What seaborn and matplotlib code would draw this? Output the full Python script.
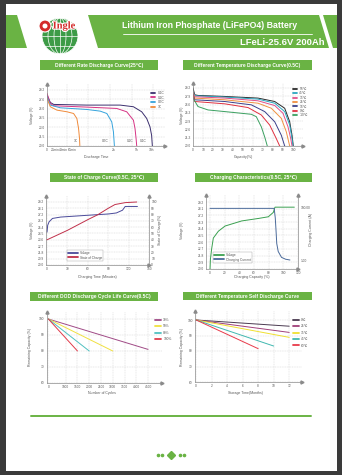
import numpy as np
import pandas as pd
import matplotlib
matplotlib.use("Agg")
import matplotlib.pyplot as plt
from matplotlib.patches import Rectangle, Polygon, Circle, Ellipse
import matplotlib.patheffects as pe
import seaborn as sns

W, H = 342, 475
GREEN = "#6ab344"
AXC = "#8a8a8a"
GRIDC = "#cfcfcf"
TXT = "#555555"

# ---------------- data ----------------
# Different rate discharge (x: position on the discharge-time axis, 0..100)
rate_labels = ["0.1C", "0.2C", "0.5C", "1C"]
rate_colors = ["#3b2f6e", "#d63384", "#34a3dc", "#f08a3a"]
rate_t_01 = [0, 3.1, 6.3, 37.5, 68.8, 81.3, 89.1, 93.8, 96.9, 98.4, 99.1]
rate_v_01 = [28.37, 27.16, 26.83, 26.72, 26.72, 26.45, 25.62, 24.52, 23.14, 21.76, 20.0]
rate_t_02 = [0, 3.1, 6.3, 37.5, 65.6, 75.0, 81.3, 82.8, 83.8, 84.4]
rate_v_02 = [28.65, 27.0, 26.61, 26.39, 26.17, 25.62, 24.24, 22.86, 21.21, 20.0]
rate_t_05 = [0, 3.1, 12.5, 37.5, 50.0, 56.3, 60.9, 62.5, 63.4]
rate_v_05 = [28.1, 26.72, 26.28, 26.0, 25.73, 25.34, 23.97, 22.31, 20.0]
rate_t_1 = [0, 3.1, 9.4, 18.8, 25.0, 28.1, 29.7, 30.6, 30.9]
rate_v_1 = [27.82, 26.45, 25.89, 25.62, 25.34, 24.52, 22.86, 21.21, 20.0]
rate_tick_pos = [0, 7.8, 15.6, 24.1, 62.5, 84.4, 98.4]
rate_tick_lab = ["0", "20min", "40min", "60min", "2h", "5h", "10h"]
rate_end_lab_x = [90.6, 78.0, 54.7, 26.6]
volt_ticks_a = ["20.0", "21.5", "23.0", "24.5", "26.0", "27.6", "29.2"]

# Different temperature discharge (capacity %, voltage)
temp_labels = ["55℃", "45℃", "35℃", "25℃", "15℃", "0℃", "-10℃"]
temp_colors = ["#2b2b2b", "#2aa6c0", "#e0508a", "#f09040", "#3a3f8a", "#e03040", "#3aa060"]
temp_c = [
    [0, 1.7, 5, 31.7, 65, 81.7, 91.7, 96.7, 99, 100.3],
    [0, 1.7, 31.7, 65, 81.7, 91.7, 96.7, 99, 100],
    [0, 1.7, 31.7, 65, 81.7, 90, 95, 97.7, 99],
    [0, 1.7, 31.7, 65, 78.3, 88.3, 93.3, 96.7],
    [0, 1.7, 31.7, 58.3, 71.7, 81.7, 88.3, 91.7],
    [0, 1.7, 31.7, 55, 68.3, 76.7, 83.3, 86.7],
    [0, 5, 15, 31.7, 58.3, 63.3, 68.3, 71.7, 74.3],
]
temp_v = [
    [29.2, 28.13, 28.02, 27.86, 27.6, 27.06, 25.99, 23.85, 21.71, 20.0],
    [28.67, 27.97, 27.76, 27.44, 26.79, 25.46, 23.32, 21.18, 20.0],
    [28.56, 27.81, 27.6, 27.17, 26.42, 25.19, 23.05, 21.18, 20.0],
    [28.4, 27.6, 27.33, 26.79, 25.99, 24.39, 22.25, 20.0],
    [28.24, 27.33, 27.06, 26.53, 25.46, 23.85, 21.71, 20.0],
    [28.13, 27.06, 26.69, 26.1, 24.92, 23.32, 21.18, 20.0],
    [27.6, 26.26, 25.72, 25.46, 25.03, 24.65, 23.05, 21.44, 20.0],
]

# State of charge (minutes)
soc_vt = [0, 1, 3, 8, 20, 58, 90, 102, 111, 115, 133]
soc_volt = [24.8, 25.8, 26.3, 26.8, 27.0, 27.25, 27.45, 27.6, 28.0, 28.55, 28.55]
soc_t = [0, 30, 60, 75, 90, 100, 115, 132]
soc_pct = [40, 55, 72, 80, 90, 96, 99, 100]
volt_ticks_b = ["20.0", "20.9", "21.8", "22.7", "23.6", "24.5", "25.4", "26.3", "27.2", "28.1", "29.2"]

# Charging characteristics (capacity %)
chg_c = [0, 0.5, 2.3, 4.5, 11.4, 20.5, 43.2, 65.9, 79.5, 86.4, 88.6, 115]
chg_v = [20.0, 21.3, 22.83, 24.25, 25.19, 25.9, 26.6, 26.94, 27.17, 27.78, 28.49, 28.49]
cur_c = [0, 87.5, 89, 90, 91, 93, 97.5, 103, 109]
cur_a = [98, 98, 80, 57, 32, 17, 6, 2.5, 1]

# DOD cycle life
dod_labels = ["30%", "50%", "80%", "100%"]
dod_colors = ["#a04a86", "#f0e040", "#50c0c0", "#e03a4a"]
dod_end_cycles = [4500, 3000, 2000, 1500]
dod_end_cap = [81, 80, 80, 80]

# Self discharge
sd_labels = ["0℃", "25℃", "35℃", "45℃", "60℃"]
sd_colors = ["#4a3a50", "#a0407a", "#f0e030", "#40b8b0", "#e83a4a"]
sd_end_month = [12, 12, 12, 10, 8]
sd_end_cap = [96, 92, 88.8, 83.2, 81.5]

# ---------------- figure ----------------
sns.set_theme(style="white")
plt.rcParams["font.family"] = ["Liberation Sans", "DejaVu Sans"]
plt.rcParams["axes.unicode_minus"] = False

fig = plt.figure(figsize=(W / 100, H / 100), dpi=100)
fig.patch.set_facecolor("#3a3a3a")


def fx(x):
    return x / W


def fy(y):
    return 1 - y / H


bg = fig.add_axes([0, 0, 1, 1], zorder=-5)
bg.set_xlim(0, W)
bg.set_ylim(H, 0)
bg.axis("off")
bg.add_patch(Rectangle((6, 4), 331, 467, fc="white", ec="none"))

# header banner
bg.add_patch(Polygon([(6, 15), (17, 15), (27, 48), (6, 48)], closed=True, fc=GREEN, ec="none"))
bg.add_patch(Polygon([(88, 15), (319, 15), (329, 48), (98, 48)], closed=True, fc=GREEN, ec="none"))
bg.add_patch(Polygon([(323, 15), (337, 15), (337, 48), (333, 48)], closed=True, fc=GREEN, ec="none"))
bg.plot([123, 312], [34, 34], color="white", lw=0.6)
bg.text(210, 25, "Lithium Iron Phosphate (LiFePO4) Battery", color="white", fontsize=6.3,
        fontweight="bold", ha="center", va="center")
bg.text(325, 42.5, "LFeLi-25.6V 200Ah", color="white", fontsize=6.8, fontweight="bold",
        ha="right", va="center")

# logo
bg.add_patch(Circle((60, 36), 18, fc="#3d9b47", ec="white", lw=0.6, zorder=2))
for w in (12, 24):
    bg.add_patch(Ellipse((60, 36), w, 36, fc="none", ec="white", lw=0.5, zorder=3))
bg.plot([60, 60], [18, 54], color="white", lw=0.5, zorder=3)
for yy in (26, 36, 46):
    half = np.sqrt(18 ** 2 - (yy - 36) ** 2)
    bg.plot([60 - half, 60 + half], [yy, yy], color="white", lw=0.5, zorder=3)
bg.add_patch(Circle((45, 26), 6, fc="#d42a2a", ec="white", lw=0.8, zorder=4))
bg.add_patch(Circle((45, 26), 2.5, fc="white", ec="none", zorder=5))
bg.text(64, 26, "Ingle", color="#d42a2a", fontsize=7.5, fontweight="bold", ha="center",
        va="center", family=["Liberation Serif", "DejaVu Serif"], zorder=6,
        path_effects=[pe.withStroke(linewidth=1.6, foreground="white")])

# footer
bg.plot([31, 311], [416, 416], color=GREEN, lw=1.4)
for xx in (158, 162, 180, 184):
    bg.plot(xx, 455, "o", ms=1.6, color=GREEN)
bg.plot(171, 455, "D", ms=4.2, color=GREEN)


def title_box(x0, y0, x1, y1, text):
    bg.add_patch(Rectangle((x0, y0), x1 - x0, y1 - y0, fc=GREEN, ec="none"))
    bg.text((x0 + x1) / 2, (y0 + y1) / 2 + 0.3, text, color="white", fontsize=3.5,
            fontweight="bold", ha="center", va="center")


title_box(40, 60, 158, 70, "Different Rate Discharge Curve(25℃)")
title_box(183, 60, 312, 70, "Different Temperature Discharge Curve(0.5C)")
title_box(50, 173, 158, 182, "State of Charge Curve(0.5C, 25℃)")
title_box(195, 173, 312, 182, "Charging Characteristics(0.5C, 25℃)")
title_box(30, 292, 158, 301, "Different DOD Discharge Cycle Life Curve(0.5C)")
title_box(183, 292, 312, 300, "Different Temperature Self Discharge Curve")


def axes_px(left, top, right, bottom):
    ax = fig.add_axes([fx(left), fy(bottom), (right - left) / W, (bottom - top) / H])
    ax.set_facecolor("none")
    return ax


def style(ax, right_spine=False):
    for s in ("top", "right"):
        ax.spines[s].set_visible(False)
    if right_spine:
        ax.spines["right"].set_visible(True)
    for s in ax.spines.values():
        s.set_color(AXC)
        s.set_linewidth(0.5)
    ax.tick_params(length=0, labelsize=2.3, colors=TXT, pad=1.6)
    ax.grid(True, color=GRIDC, lw=0.35, ls=(0, (2, 1.5)))
    ax.plot([1], [0], marker=">", ms=2.2, color=AXC, transform=ax.transAxes, clip_on=False)
    ax.plot([0], [1], marker="^", ms=2.2, color=AXC, transform=ax.transAxes, clip_on=False)
    ax.set_xlabel("")
    ax.set_ylabel("")


def label(ax, xlabel, ylabel, xl_px, yl_px, axbox):
    ax.text(xl_px[0], xl_px[1], xlabel, fontsize=2.5, color=TXT, ha="center", va="center",
            transform=bg.transData)
    ax.text(yl_px[0], yl_px[1], ylabel, fontsize=2.5, color=TXT, ha="center", va="center",
            rotation=90, transform=bg.transData)


def small_legend(ax, handles, labels, x, y, frame=False, hl=1.4, spacing=0.25):
    leg = ax.legend(handles, labels, loc="upper left", bbox_to_anchor=(fx(x), fy(y)),
                    bbox_transform=fig.transFigure, fontsize=2.3, frameon=frame,
                    handlelength=hl, handletextpad=0.6, labelspacing=spacing,
                    borderpad=0.35 if frame else 0, borderaxespad=0, fancybox=False)
    for ln in leg.get_lines():
        ln.set_linewidth(1.3)
    for t in leg.get_texts():
        t.set_color(TXT)
    if frame:
        leg.get_frame().set_edgecolor(AXC)
        leg.get_frame().set_linewidth(0.3)
    return leg


# ---- panel 1: rate discharge ----
box1 = (47, 84, 165, 146)
ax1 = axes_px(*box1)
rate_df = pd.concat([
    pd.DataFrame({"t": t, "v": v, "rate": r})
    for t, v, r in zip([rate_t_01, rate_t_02, rate_t_05, rate_t_1],
                       [rate_v_01, rate_v_02, rate_v_05, rate_v_1], rate_labels)
])
sns.lineplot(data=rate_df, x="t", y="v", hue="rate", hue_order=rate_labels,
             palette=rate_colors, sort=False, estimator=None, lw=0.7, ax=ax1)
ax1.set_xlim(0, 111)
ax1.set_ylim(20, 20 + 9.2 * 62 / 56)
ax1.set_yticks(np.linspace(20, 29.2, 7), volt_ticks_a)
ax1.set_xticks(rate_tick_pos, rate_tick_lab)
ax1.set_xticks([18.5, 39, 59, 80, 100], minor=True)
style(ax1)
ax1.grid(False, axis="x", which="major")
ax1.grid(True, axis="x", which="minor", color=GRIDC, lw=0.35, ls=(0, (2, 1.5)))
ax1.tick_params(which="minor", length=0)
for lab, xx in zip(rate_labels, rate_end_lab_x):
    ax1.text(xx, 20.45, lab, fontsize=2.3, color=TXT, ha="center", va="bottom")
h, l = ax1.get_legend_handles_labels()
small_legend(ax1, h, l, 151, 91, spacing=0.18)
label(ax1, "Discharge Time", "Voltage (V)", (96, 157), (32, 115), box1)

# ---- panel 2: temperature discharge ----
box2 = (193, 83, 303, 146)
ax2 = axes_px(*box2)
temp_df = pd.concat([
    pd.DataFrame({"c": c, "v": v, "temp": t})
    for c, v, t in zip(temp_c, temp_v, temp_labels)
])
sns.lineplot(data=temp_df, x="c", y="v", hue="temp", hue_order=temp_labels,
             palette=temp_colors, sort=False, estimator=None, lw=0.7, ax=ax2)
ax2.set_xlim(0, 110)
ax2.set_ylim(20, 20 + 9.2 * 63 / 58)
ax2.set_yticks(np.linspace(20, 29.2, 8), [f"{v:.1f}" for v in np.linspace(20, 29.2, 8)])
ax2.set_xticks(range(0, 101, 10))
style(ax2)
h, l = ax2.get_legend_handles_labels()
small_legend(ax2, h, l, 293, 87, spacing=0.12)
label(ax2, "Capacity(%)", "Voltage (V)", (243, 157), (182, 115), box2)

# ---- panel 3: state of charge ----
box3 = (46, 196, 149, 265)
ax3 = axes_px(*box3)
ax3b = ax3.twinx()
ax3b.set_facecolor("none")
sns.lineplot(x=soc_vt, y=soc_volt, color="#4a4a9a", lw=0.7, sort=False, estimator=None,
             ax=ax3, label="Voltage", legend=False)
sns.lineplot(x=soc_t, y=soc_pct, color="#c0304a", lw=0.7, sort=False, estimator=None,
             ax=ax3b, label="State of Charge", legend=False)
ax3.set_xlim(-1.5, 150)
ax3.set_ylim(20, 20 + 9.2 * 69 / 63)
ax3b.set_ylim(0, 100 * 69 / 63)
ax3.set_yticks(np.linspace(20, 29.2, 11), volt_ticks_b)
ax3b.set_yticks(range(0, 101, 10))
ax3.set_xticks(range(0, 151, 30))
style(ax3)
for s in ("top", "left", "bottom"):
    ax3b.spines[s].set_visible(False)
ax3b.spines["right"].set_color(AXC)
ax3b.spines["right"].set_linewidth(0.5)
ax3b.tick_params(length=0, labelsize=2.3, colors=TXT, pad=1.6)
ax3b.set_ylabel("")
ax3b.plot([1], [1], marker="^", ms=2.2, color=AXC, transform=ax3b.transAxes, clip_on=False)
h1, l1 = ax3.get_legend_handles_labels()
h2, l2 = ax3b.get_legend_handles_labels()
small_legend(ax3b, h1 + h2, l1 + l2, 67, 250, frame=True, hl=3.0, spacing=0.15)
label(ax3, "Charging Time (Minutes)", "Voltage (V)", (97, 277), (32, 230), box3)
ax3.text(160, 230, "State of Charge(%)", fontsize=2.5, color=TXT, ha="center", va="center",
         rotation=90, transform=bg.transData)

# ---- panel 4: charging characteristics ----
box4 = (206, 195, 298, 269)
ax4 = axes_px(*box4)
ax4b = ax4.twinx()
ax4b.set_facecolor("none")
sns.lineplot(x=chg_c, y=chg_v, color="#3aa050", lw=0.7, sort=False, estimator=None,
             ax=ax4, label="Voltage", legend=False)
sns.lineplot(x=cur_c, y=cur_a, color="#4a6a9a", lw=0.7, sort=False, estimator=None,
             ax=ax4b, label="Charging Current", legend=False)
ax4.set_xlim(-5.5, 120)
ax4.set_ylim(20, 20 + 9.2 * 74 / 67)
ax4b.set_ylim(-15.9, 123.1)
ax4.set_yticks(np.linspace(20, 29.2, 11), volt_ticks_b)
ax4b.set_yticks([1, 100], ["1.00", "100.00"])
ax4.set_xticks(range(0, 121, 20))
style(ax4)
for s in ("top", "left", "bottom"):
    ax4b.spines[s].set_visible(False)
ax4b.spines["right"].set_color(AXC)
ax4b.spines["right"].set_linewidth(0.5)
ax4b.tick_params(length=0, labelsize=2.3, colors=TXT, pad=1.6)
ax4b.set_ylabel("")
ax4b.plot([1], [1], marker="^", ms=2.2, color=AXC, transform=ax4b.transAxes, clip_on=False)
h1, l1 = ax4.get_legend_handles_labels()
h2, l2 = ax4b.get_legend_handles_labels()
small_legend(ax4b, h1 + h2, l1 + l2, 213, 252, frame=True, hl=3.0, spacing=0.15)
label(ax4, "Charging Capacity (%)", "Voltage (V)", (252, 277), (182, 230), box4)
ax4.text(311, 230, "Charging Current (A)", fontsize=2.5, color=TXT, ha="center",
         va="center", rotation=90, transform=bg.transData)

# ---- panel 5: DOD cycle life ----
box5 = (46.7, 312, 161.7, 383)


def cyc_fwd(v):
    v = np.asarray(v, float)
    return np.where(v <= 1000, v * 0.052, 52 + (v - 1000) * 0.0706)


def cyc_inv(u):
    u = np.asarray(u, float)
    return np.where(u <= 52, u / 0.052, 1000 + (u - 52) / 0.0706)


ax5 = axes_px(*box5)
ax5.set_xscale("function", functions=(cyc_fwd, cyc_inv))
dod_df = pd.concat([
    pd.DataFrame({"n": [0, n], "cap": [100, c], "dod": d})
    for n, c, d in zip(dod_end_cycles, dod_end_cap, dod_labels)
])
sns.lineplot(data=dod_df, x="n", y="cap", hue="dod", hue_order=dod_labels,
             palette=dod_colors, sort=False, estimator=None, lw=0.7, ax=ax5)
ax5.set_xlim(-96, 5079)
ax5.set_ylim(60, 60 + 40 * 71 / 64)
ax5.set_yticks([60, 70, 80, 90, 100])
ax5.set_xticks([0, 1000, 1500, 2000, 2500, 3000, 3500, 4000, 4500],
               ["0", "1000", "1500", "2000", "2500", "3000", "3500", "4000", "4500"])
ax5.xaxis.set_minor_locator(matplotlib.ticker.NullLocator())
style(ax5)
h, l = ax5.get_legend_handles_labels()
small_legend(ax5, h, l, 155, 318, hl=2.0, spacing=0.75)
label(ax5, "Number of Cycles", "Remaining Capacity (%)", (102, 393), (30, 347), box5)

# ---- panel 6: self discharge ----
box6 = (195, 311, 302, 382)
ax6 = axes_px(*box6)
sd_df = pd.concat([
    pd.DataFrame({"m": [0, m], "cap": [100, c], "temp": t})
    for m, c, t in zip(sd_end_month, sd_end_cap, sd_labels)
])
sns.lineplot(data=sd_df, x="m", y="cap", hue="temp", hue_order=sd_labels,
             palette=sd_colors, sort=False, estimator=None, lw=0.7, ax=ax6)
ax6.set_xlim(-0.15, 13.65)
ax6.set_ylim(60, 60 + 40 * 71 / 62)
ax6.set_yticks([60, 70, 80, 90, 100])
ax6.set_xticks(range(0, 13, 2))
style(ax6)
h, l = ax6.get_legend_handles_labels()
small_legend(ax6, h, l, 293, 318, hl=2.0, spacing=0.75)
label(ax6, "Storage Time(Months)", "Remaining Capacity (%)", (245, 393), (182, 347), box6)

fig.savefig("out.png", dpi=100)
